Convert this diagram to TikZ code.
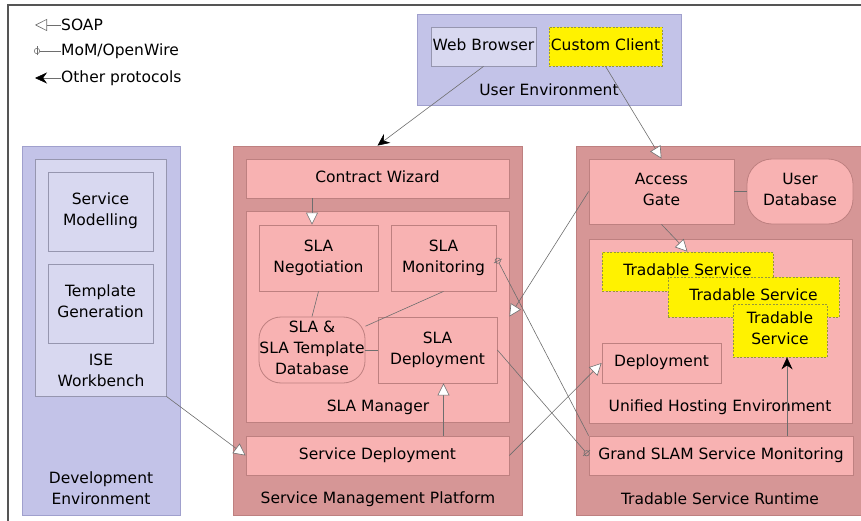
\documentclass[tikz,border=0pt]{standalone}
\usepackage{fontspec}
\setmainfont{DejaVu Sans}
\usetikzlibrary{arrows.meta}

\definecolor{envfill}{RGB}{195,195,232}
\definecolor{envline}{RGB}{160,160,205}
\definecolor{toolfill}{RGB}{216,216,240}
\definecolor{toolline}{RGB}{150,150,175}
\definecolor{platfill}{RGB}{214,150,150}
\definecolor{platline}{RGB}{190,128,128}
\definecolor{partfill}{RGB}{248,178,178}
\definecolor{partline}{RGB}{190,128,128}
\definecolor{svcline}{RGB}{150,150,60}
\definecolor{linkgray}{RGB}{110,110,110}
\definecolor{framegray}{RGB}{85,85,85}

\tikzset{
  envbox/.style={draw=envline, fill=envfill, line width=0.8pt},
  toolbox/.style={draw=toolline, fill=toolfill, line width=0.8pt, text depth=4pt},
  platbox/.style={draw=platline, fill=platfill, line width=0.8pt},
  partbox/.style={draw=partline, fill=partfill, line width=0.8pt, text depth=4pt},
  svcbox/.style={draw=svcline, fill=yellow, line width=0.6pt, dash pattern=on 2pt off 1.5pt, text depth=4pt},
  link/.style={draw=linkgray, line width=0.6pt},
  soap/.style={link, -{Triangle[length=12pt,width=12pt,fill=white]}},
  mom/.style={link, -{Bar[width=9pt,sep=-3pt]Circle[open,length=6pt,width=6pt]}},
  other/.style={link, -{Stealth[length=12pt,width=11pt,black]}}
}

\begin{document}
\begin{tikzpicture}[x=1pt,y=-1pt,
  every node/.style={font=\fontsize{15.5}{21}\selectfont, inner sep=0pt, align=center, text=black}]
\clip (0,0) rectangle (861,521);
\draw[framegray, line width=1.3pt] (8,521) -- (8,5) -- (861,5);

\node[anchor=west] (soaplbl) at (61,25) {SOAP};
\coordinate (soaptip) at (35,25);
\draw[soap] (soaplbl.west) -- (soaptip);
\node[anchor=west] (momlbl) at (61,51) {MoM/OpenWire};
\coordinate (momtip) at (34,51);
\draw[mom] (momlbl.west) -- (momtip);
\node[anchor=west] (otherlbl) at (61,78) {Other protocols};
\coordinate (othertip) at (35,78);
\draw[other] (otherlbl.west) -- (othertip);

\node[envbox, minimum width=264, minimum height=91] (userenv) at (549,59.5) {};
\node (userenvlbl) at (549,90) {User Environment};
\node[toolbox, minimum width=105, minimum height=39] (browser) at (483.5,46.5) {Web Browser};
\node[svcbox, minimum width=113, minimum height=39] (client) at (605.5,46.5) {Custom Client};

\node[envbox, minimum width=158, minimum height=369] (devenv) at (101,330.5) {};
\node (devenvlbl) at (101,488) {Development\\Environment};
\node[toolbox, minimum width=131, minimum height=237] (ise) at (100.5,277.5) {};
\node (iselbl) at (101,370) {ISE\\Workbench};
\node[toolbox, minimum width=105, minimum height=79] (modelling) at (100.5,211.5) {Service\\Modelling};
\node[toolbox, minimum width=105, minimum height=79] (templgen) at (100.5,303.5) {Template\\Generation};

\node[platbox, minimum width=289, minimum height=369] (smp) at (377.5,330.5) {};
\node (smplbl) at (378,499) {Service Management Platform};
\node[partbox, minimum width=263, minimum height=39] (wizard) at (377.5,178.5) {Contract Wizard};
\node[partbox, minimum width=263, minimum height=211] (slamgr) at (377.5,316.5) {};
\node (slamgrlbl) at (378,407) {SLA Manager};
\node[partbox, minimum width=119, minimum height=66] (negotiation) at (318.5,258) {SLA\\Negotiation};
\node[partbox, minimum width=105, minimum height=66] (monitoring) at (443.5,258) {SLA\\Monitoring};
\node[partbox, rounded corners=22, minimum width=106, minimum height=66] (sladb) at (312,350) {SLA \&\\SLA Template\\Database};
\node[partbox, minimum width=119, minimum height=66] (sladeploy) at (437.5,350) {SLA\\Deployment};
\node[partbox, minimum width=263, minimum height=39] (svcdeploy) at (377.5,455.5) {Service Deployment};

\node[platbox, minimum width=290, minimum height=369] (runtime) at (721,330.5) {};
\node (runtimelbl) at (720,499) {Tradable Service Runtime};
\node[partbox, minimum width=145, minimum height=65] (gate) at (661.5,191.5) {Access\\Gate};
\node[partbox, rounded corners=25, minimum width=106, minimum height=65] (userdb) at (800,191.5) {User\\Database};
\node[partbox, minimum width=263, minimum height=184] (hosting) at (720.5,331) {};
\node (hostinglbl) at (720,407) {Unified Hosting Environment};
\node[svcbox, minimum width=171, minimum height=39] (trade1) at (687.5,271.5) {Tradable Service};
\node[svcbox, minimum width=171, minimum height=40] (trade2) at (753.5,297) {Tradable Service};
\node[svcbox, minimum width=94, minimum height=53] (trade3) at (780,330.5) {Tradable\\Service};
\node[partbox, minimum width=119, minimum height=40] (deploy) at (661.5,363) {Deployment};
\node[partbox, minimum width=264, minimum height=39] (grandslam) at (721,455.5) {Grand SLAM Service Monitoring};

\draw[other] (browser.south) -- (smp.north);
\draw[soap] (client.south) -- (gate.north);
\draw[soap] (wizard.south -| sladb.north) -- (negotiation.north -| sladb.north);
\draw[link] (negotiation.south) -- (sladb.north);
\draw[link] (monitoring.south) -- (sladb);
\draw[link] (sladb.east) -- (sladeploy.west);
\draw[soap] (svcdeploy.north -| monitoring.south) -- (sladeploy.south -| monitoring.south);
\draw[soap] (ise.south east) -- (svcdeploy.west);
\draw[soap] (svcdeploy.east) -- (deploy.west);
\draw[mom] (sladeploy.east) -- (grandslam.west);
\draw[mom] (grandslam.north west) -- (monitoring.east);
\draw[soap] (gate.west) -- (slamgr.east);
\draw[soap] (gate.south) -- (trade1.north);
\draw[link] (gate.east) -- (userdb.west);
\draw[other] ([xshift=7]grandslam.north -| trade3.south) -- ([xshift=7]trade3.south);
\end{tikzpicture}
\end{document}
